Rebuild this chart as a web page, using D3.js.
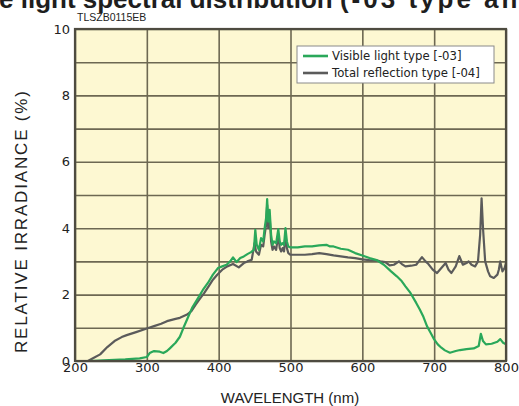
<!DOCTYPE html>
<html>
<head>
<meta charset="utf-8">
<script src="https://cdn.jsdelivr.net/npm/d3@7"></script>
<style>
  html, body { margin: 0; padding: 0; background: #ffffff; }
  svg { display: block; }
</style>
</head>
<body>
<svg id="chart" width="519" height="406"></svg>
<script>
// Wavelength ticks (nm) and relative irradiance ticks (%)
const xTickValues = [200, 300, 400, 500, 600, 700, 800];
const yLabelValues = [0, 2, 4, 6, 8, 10];
const yGridValues = [0, 1, 2, 3, 4, 5, 6, 7, 8, 9, 10];

// Visible light type [-03]
const visibleNm = [210, 220, 240, 270, 290, 300, 304, 310, 318, 323, 328, 332, 340, 346, 351, 356, 363, 370, 378, 385, 392, 399, 405, 411, 416, 420, 425, 430, 435, 440, 445, 449, 451, 453, 456, 459, 462, 464, 466, 467.5, 469, 471, 473, 475, 477, 480, 483, 485, 487, 489, 491, 493, 495, 497, 500, 510, 520, 530, 540, 550, 555, 560, 570, 580, 590, 600, 610, 620, 630, 640, 648, 655, 660, 667, 675, 680, 685, 690, 695, 700, 705, 710, 715, 722, 730, 736, 745, 755, 762, 765, 768, 772, 780, 788, 792, 796, 800];
const visibleVal = [0, 0, 0.02, 0.05, 0.08, 0.12, 0.24, 0.3, 0.28, 0.24, 0.3, 0.38, 0.55, 0.73, 1.0, 1.25, 1.6, 1.85, 2.14, 2.35, 2.6, 2.8, 2.85, 2.9, 3.0, 3.12, 2.98, 3.1, 3.15, 3.22, 3.28, 3.35, 3.95, 3.5, 3.35, 3.7, 3.6, 4.0, 4.3, 4.88, 4.2, 4.55, 3.8, 3.5, 3.6, 3.55, 3.97, 3.6, 3.5, 3.55, 3.5, 4.0, 3.6, 3.45, 3.42, 3.42, 3.45, 3.45, 3.48, 3.5, 3.45, 3.45, 3.38, 3.35, 3.25, 3.18, 3.1, 3.04, 2.9, 2.7, 2.55, 2.4, 2.25, 2.05, 1.75, 1.55, 1.33, 1.05, 0.85, 0.65, 0.5, 0.4, 0.32, 0.25, 0.3, 0.33, 0.36, 0.38, 0.45, 0.82, 0.6, 0.5, 0.52, 0.58, 0.66, 0.55, 0.5];

// Total reflection type [-04]
const totalNm = [210, 218, 225, 235, 245, 255, 265, 272, 285, 300, 310, 320, 328, 340, 346, 356, 362, 368, 374, 380, 386, 392, 398, 405, 412, 420, 428, 435, 440, 446, 450, 452, 456, 459, 462, 464, 466, 467.5, 469, 471, 473, 475, 477, 480, 483, 485, 487, 489, 491, 493, 495, 497, 500, 510, 520, 530, 540, 550, 560, 570, 580, 590, 600, 610, 620, 625, 632, 638, 644, 651, 655, 660, 668, 675, 683, 688, 692, 698, 704, 710, 716, 720, 724, 730, 735, 740, 745, 748, 752, 757, 761, 764, 766, 768, 771, 775, 778, 783, 788, 790, 792, 795, 798, 800];
const totalVal = [0, 0, 0.08, 0.2, 0.42, 0.6, 0.72, 0.78, 0.87, 0.98, 1.05, 1.12, 1.2, 1.27, 1.3, 1.4, 1.5, 1.7, 1.88, 2.05, 2.25, 2.45, 2.6, 2.75, 2.85, 2.92, 2.82, 2.95, 3.0, 3.05, 3.55, 3.3, 3.2, 3.5, 3.45, 3.8, 4.1, 4.7, 4.0, 4.35, 3.6, 3.35, 3.45, 3.35, 3.8, 3.4, 3.3, 3.4, 3.3, 3.8, 3.4, 3.25, 3.2, 3.2, 3.2, 3.22, 3.25, 3.22, 3.18, 3.15, 3.12, 3.1, 3.06, 3.04, 3.03, 3.0, 2.98, 2.88, 2.9, 3.0, 2.92, 2.85, 2.87, 2.9, 3.13, 3.0, 2.92, 2.75, 2.65, 2.8, 2.95, 2.75, 2.65, 2.85, 3.16, 2.9, 2.95, 3.0, 2.9, 2.85, 3.0, 3.8, 4.9, 4.0, 3.0, 2.7, 2.55, 2.5, 2.6, 2.75, 3.0, 2.7, 2.8, 2.95];

const seriesNames = ["Visible light type [-03]", "Total reflection type [-04]"];
const seriesColors = ["#2aa85a", "#5b5b5b"];

const svg = d3.select("#chart");
const margin = { left: 75, top: 29, right: 13, bottom: 45 };
const W = 519, H = 406;
const plotW = W - margin.left - margin.right;
const plotH = H - margin.top - margin.bottom;

const x = d3.scaleLinear().domain([200, 800]).range([0, plotW]);
const y = d3.scaleLinear().domain([0, 10]).range([plotH, 0]);

// Chart title (runs past the page edges)
const title = svg.append("text")
  .attr("y", 8)
  .attr("font-family", "Liberation Sans, Arial, sans-serif")
  .attr("font-weight", "bold")
  .attr("font-size", 26)
  .attr("fill", "#1e1e1e");
title.append("tspan").text("Visible light spectral distribution ");
title.append("tspan").attr("letter-spacing", 3).text("(-03 type and -04 type)");
const prefixW = title.node().getSubStringLength(0, 6);
title.attr("x", -prefixW - 1);

// Figure code
svg.append("text")
  .attr("x", 77).attr("y", 21)
  .attr("font-family", "Liberation Sans, Arial, sans-serif")
  .attr("font-size", 10.5)
  .attr("fill", "#222")
  .text("TLSZB0115EB");

const g = svg.append("g").attr("transform", `translate(${margin.left},${margin.top})`);

// Plot background
g.append("rect")
  .attr("width", plotW).attr("height", plotH)
  .attr("fill", "#fdf8d2");

// Grid
g.append("g")
  .attr("class", "xgrid")
  .attr("transform", `translate(0,${plotH})`)
  .call(d3.axisBottom(x).tickValues(xTickValues).tickSize(-plotH).tickFormat(""))
  .call(s => s.select(".domain").remove())
  .call(s => s.selectAll("line").attr("stroke", "#6d6852").attr("stroke-width", 1.6));

g.append("g")
  .attr("class", "ygrid")
  .call(d3.axisLeft(y).tickValues(yGridValues).tickSize(-plotW).tickFormat(""))
  .call(s => s.select(".domain").remove())
  .call(s => s.selectAll("line").attr("stroke", "#6d6852").attr("stroke-width", 1.6));

// Tick labels
const xAxis = g.append("g")
  .attr("transform", `translate(0,${plotH})`)
  .call(d3.axisBottom(x).tickValues(xTickValues).tickSize(0).tickPadding(2));
xAxis.select(".domain").remove();
xAxis.selectAll("text")
  .attr("font-family", "DejaVu Sans, sans-serif")
  .attr("font-size", 13)
  .attr("fill", "#222");

const yAxis = g.append("g")
  .call(d3.axisLeft(y).tickValues(yLabelValues).tickSize(0).tickPadding(5));
yAxis.select(".domain").remove();
yAxis.selectAll("text")
  .attr("font-family", "DejaVu Sans, sans-serif")
  .attr("font-size", 13)
  .attr("fill", "#222");

// Series lines
const lineGen = d3.line().x(d => x(d[0])).y(d => y(d[1]));
const totalPts = totalNm.map((n, i) => [n, totalVal[i]]);
const visiblePts = visibleNm.map((n, i) => [n, visibleVal[i]]);

g.append("path")
  .datum(totalPts)
  .attr("d", lineGen)
  .attr("fill", "none")
  .attr("stroke", seriesColors[1])
  .attr("stroke-width", 2.2)
  .attr("stroke-linejoin", "round");

g.append("path")
  .datum(visiblePts)
  .attr("d", lineGen)
  .attr("fill", "none")
  .attr("stroke", seriesColors[0])
  .attr("stroke-width", 2.2)
  .attr("stroke-linejoin", "round");

// Frame
g.append("rect")
  .attr("width", plotW).attr("height", plotH)
  .attr("fill", "none")
  .attr("stroke", "#4e4b40")
  .attr("stroke-width", 2.2);

// Legend
const lg = svg.append("g").attr("transform", "translate(297,46)");
lg.append("rect")
  .attr("width", 197).attr("height", 37)
  .attr("fill", "#ffffff")
  .attr("stroke", "#8a8a8a")
  .attr("stroke-width", 1);
seriesNames.forEach((name, i) => {
  const yy = 10 + i * 17;
  lg.append("line")
    .attr("x1", 6).attr("x2", 31)
    .attr("y1", yy).attr("y2", yy)
    .attr("stroke", seriesColors[i])
    .attr("stroke-width", 2.6);
  lg.append("text")
    .attr("x", 35).attr("y", yy + 4)
    .attr("font-family", "DejaVu Sans, sans-serif")
    .attr("font-size", 11.7)
    .attr("fill", "#222")
    .text(name);
});

// Axis titles
svg.append("text")
  .attr("x", 290).attr("y", 403)
  .attr("text-anchor", "middle")
  .attr("font-family", "Liberation Sans, Arial, sans-serif")
  .attr("font-size", 15)
  .attr("fill", "#222")
  .text("WAVELENGTH (nm)");

svg.append("text")
  .attr("transform", "translate(27,222) rotate(-90)")
  .attr("text-anchor", "middle")
  .attr("font-family", "Liberation Sans, Arial, sans-serif")
  .attr("font-size", 17)
  .attr("textLength", 262)
  .attr("lengthAdjust", "spacing")
  .attr("fill", "#222")
  .text("RELATIVE IRRADIANCE (%)");
</script>
</body>
</html>
